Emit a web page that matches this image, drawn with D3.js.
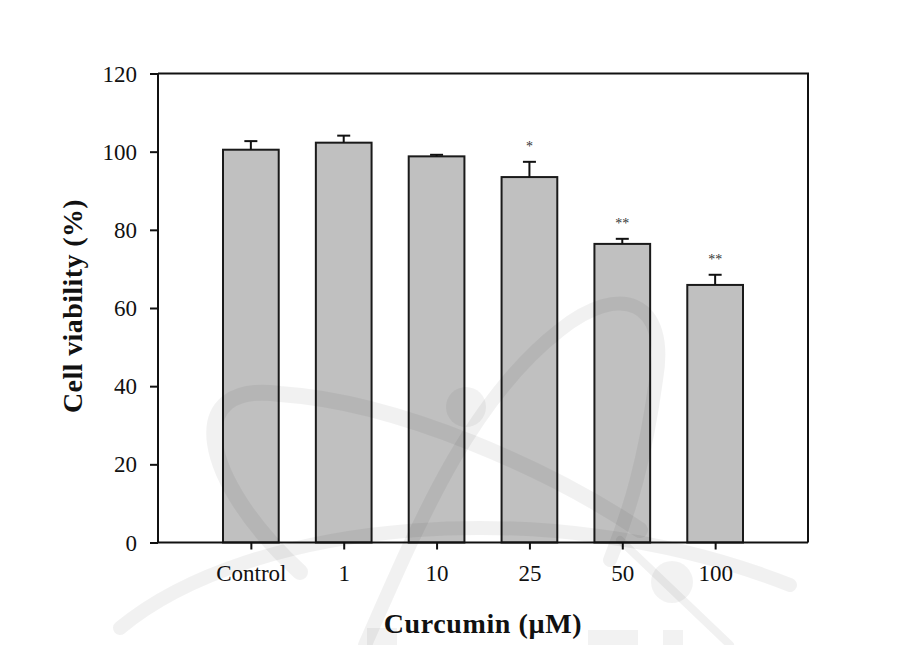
<!DOCTYPE html>
<html>
<head>
<meta charset="utf-8">
<script src="https://cdn.jsdelivr.net/npm/d3@7"></script>
<style>
  html, body { margin: 0; padding: 0; background: #fff; }
  svg { display: block; }
</style>
</head>
<body>
<svg id="chart" width="918" height="645"></svg>
<script>
// ---- data ----
const categories = ["Control", "1", "10", "25", "50", "100"];
const viability = [100.5, 102.3, 98.8, 93.5, 76.4, 65.9];
const errorsSD = [2.2, 1.8, 0.4, 3.9, 1.3, 2.6];
const significance = ["", "", "", "*", "**", "**"];
const yTicks = [0, 20, 40, 60, 80, 100, 120];
const xTitle = "Curcumin (µM)";
const yTitle = "Cell viability (%)";

// ---- layout ----
const W = 918, H = 645;
const margin = { left: 158, top: 73.5, right: 110, bottom: 102.5 };
const innerW = W - margin.left - margin.right;
const innerH = H - margin.top - margin.bottom;

const svg = d3.select("#chart");
const serif = "'Liberation Serif', 'Times New Roman', serif";

const g = svg.append("g").attr("transform", `translate(${margin.left},${margin.top})`);

const x = d3.scalePoint().domain(categories).range([0, innerW]).padding(1);
const y = d3.scaleLinear().domain([0, 120]).range([innerH, 0]);
const barW = x.step() * 0.6;

// frame (top & right)
g.append("path")
  .attr("d", `M0,0H${innerW}V${innerH}`)
  .attr("fill", "none").attr("stroke", "#111").attr("stroke-width", 2);

// bars
const data = categories.map((c, i) => ({ c, v: viability[i], e: errorsSD[i], s: significance[i] }));

g.selectAll("rect.bar").data(data).join("rect")
  .attr("class", "bar")
  .attr("x", d => x(d.c) - barW / 2)
  .attr("y", d => y(d.v))
  .attr("width", barW)
  .attr("height", d => y(0) - y(d.v))
  .attr("fill", "#c0c0c0")
  .attr("stroke", "#1a1a1a")
  .attr("stroke-width", 2);

// error bars (upper only)
const capW = 13;
const eb = g.selectAll("g.err").data(data).join("g").attr("class", "err");
eb.append("line")
  .attr("x1", d => x(d.c)).attr("x2", d => x(d.c))
  .attr("y1", d => y(d.v)).attr("y2", d => y(d.v + d.e))
  .attr("stroke", "#111").attr("stroke-width", 2);
eb.append("line")
  .attr("x1", d => x(d.c) - capW / 2).attr("x2", d => x(d.c) + capW / 2)
  .attr("y1", d => y(d.v + d.e)).attr("y2", d => y(d.v + d.e))
  .attr("stroke", "#111").attr("stroke-width", 2);

// significance marks
g.selectAll("text.sig").data(data.filter(d => d.s)).join("text")
  .attr("class", "sig")
  .attr("x", d => x(d.c))
  .attr("y", d => y(d.v + d.e) - 11)
  .attr("text-anchor", "middle")
  .attr("font-family", serif)
  .attr("font-size", 14)
  .attr("fill", "#333")
  .text(d => d.s);

// axes
const yAxis = d3.axisLeft(y).tickValues(yTicks).tickSize(8).tickPadding(13).tickFormat(d3.format("d"));
const xAxis = d3.axisBottom(x).tickSize(7).tickPadding(15);

const ya = g.append("g").call(yAxis);
const xa = g.append("g").attr("transform", `translate(0,${innerH})`).call(xAxis);

[ya, xa].forEach(a => {
  a.select(".domain").attr("stroke", "#111").attr("stroke-width", 2);
  a.selectAll(".tick line").attr("stroke", "#111").attr("stroke-width", 2);
  a.selectAll(".tick text")
    .attr("font-family", serif)
    .attr("font-size", 23)
    .attr("fill", "#111");
});
ya.select(".domain").attr("d", `M0,0V${innerH}`);
xa.select(".domain").attr("d", `M0,0H${innerW}`);
ya.selectAll(".tick text").attr("dy", "0.33em");

// axis titles
svg.append("text")
  .attr("x", margin.left + innerW / 2)
  .attr("y", 633)
  .attr("text-anchor", "middle")
  .attr("font-family", serif)
  .attr("font-weight", "bold")
  .attr("font-size", 28)
  .attr("letter-spacing", "0.6px")
  .attr("fill", "#111")
  .text(xTitle);

svg.append("text")
  .attr("transform", `translate(82,${margin.top + innerH / 2 - 2}) rotate(-90)`)
  .attr("text-anchor", "middle")
  .attr("font-family", serif)
  .attr("font-weight", "bold")
  .attr("font-size", 28)
  .attr("letter-spacing", "0.4px")
  .attr("fill", "#111")
  .text(yTitle);

// faint watermark overlay
const wm = svg.append("g").attr("fill", "none").attr("stroke", "#000").attr("stroke-opacity", 0.055).attr("stroke-linecap", "round");
wm.append("path").attr("d", "M120,628 C250,520 550,490 790,585").attr("stroke-width", 14);
wm.append("path").attr("d", "M300,572 C200,480 180,380 280,394 C400,402 550,470 640,530").attr("stroke-width", 16);
wm.append("path").attr("d", "M365,645 C420,520 470,400 560,330 C620,282 670,300 656,380 C645,460 630,510 610,560").attr("stroke-width", 14);
wm.append("path").attr("d", "M620,540 L730,645").attr("stroke-width", 8);
const wmf = svg.append("g").attr("fill", "#000").attr("fill-opacity", 0.05);
wmf.append("circle").attr("cx", 466).attr("cy", 407).attr("r", 20);
wmf.append("circle").attr("cx", 672).attr("cy", 582).attr("r", 21);
wmf.append("rect").attr("x", 367).attr("y", 628).attr("width", 30).attr("height", 17);
wmf.append("rect").attr("x", 588).attr("y", 630).attr("width", 50).attr("height", 15);
wmf.append("rect").attr("x", 663).attr("y", 630).attr("width", 20).attr("height", 15);
</script>
</body>
</html>
